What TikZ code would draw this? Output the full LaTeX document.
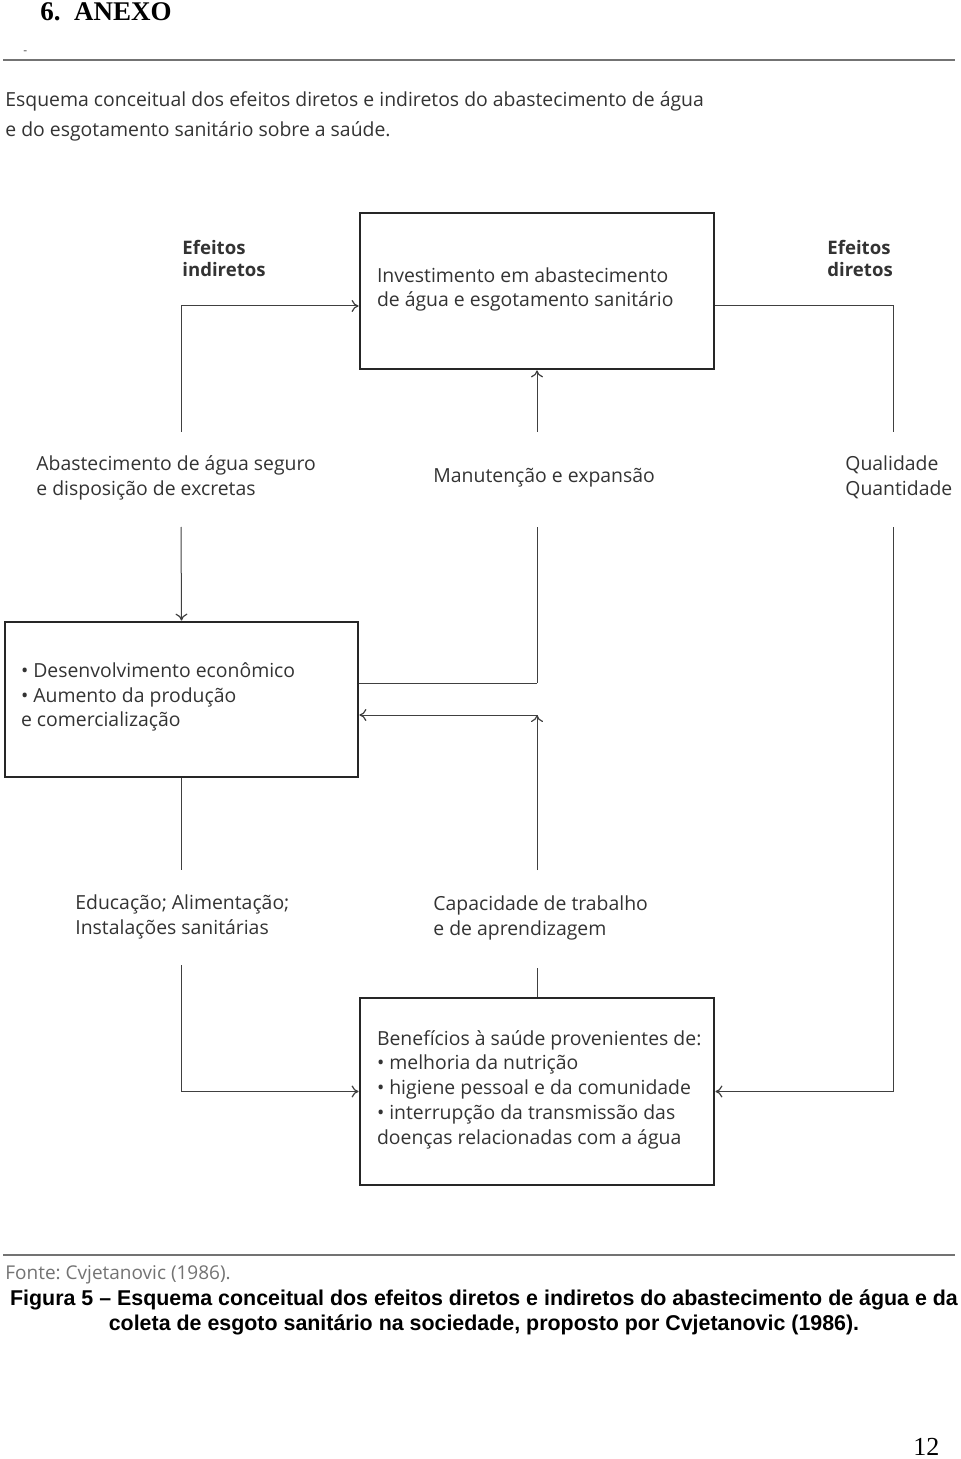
\documentclass[tikz,border=0pt]{standalone}
\usepackage{fontspec}
\setmainfont{Open Sans}
\newfontfamily\capfont{Liberation Sans}
\newfontfamily\romfont{Liberation Serif}
\usepackage{tikz}
\usetikzlibrary{arrows.meta}
\frenchspacing

\tikzset{
    box/.style={draw=black!85, line width=1.4pt, rectangle, inner sep=0},
    band/.style={draw=black!45, line width=1.6pt},
    tip/.style={-{To[length=3.5pt,width=6pt,line width=0.6pt,color=black!75]}}
}

\begin{document}
\begin{tikzpicture}[x=0.5pt,y=-0.5pt]
        \useasboundingbox (0,0) rectangle (960,1459);

        % page head and foot
        \node[anchor=west,inner sep=0,font=\romfont\bfseries\fontsize{13.5}{16}\selectfont] (40) at (40,12) {6.\ \ ANEXO};
        \node[anchor=west,inner sep=0,font=\fontsize{6}{7}\selectfont,text=black!70] (41) at (23,53) {-};
        \draw[black!55, line width=1pt] (3,60) -- (955,60);
        \node[anchor=west,inner sep=0,align=left,text=black!80,font=\fontsize{9.7}{15}\selectfont] (42) at (5,116)
            {Esquema conceitual dos efeitos diretos e indiretos do abastecimento de água\\e do esgotamento sanitário sobre a saúde.};
        \draw[black!55, line width=1pt] (3,1255) -- (955,1255);
        \node[anchor=west,inner sep=0,text=black!55,font=\fontsize{9.5}{12}\selectfont] (43) at (5,1275) {Fonte: Cvjetanovic (1986).};
        \node[inner sep=0,align=center,font=\capfont\bfseries\fontsize{10.7}{12.5}\selectfont] (44) at (484,1312.5)
            {Figura 5 – Esquema conceitual dos efeitos diretos e indiretos do abastecimento de água e da\\coleta de esgoto sanitário na sociedade, proposto por Cvjetanovic (1986).};
        \node[anchor=west,inner sep=0,font=\romfont\fontsize{13}{15}\selectfont] (45) at (913,1447) {12};

        % boxes
        \node[box, minimum width=177pt, minimum height=78pt] (1) at (537,291) {};
        \node[box, minimum width=176.5pt, minimum height=77.5pt] (2) at (181.5,699.5) {};
        \node[box, minimum width=177pt, minimum height=93.5pt] (3) at (537,1091.5) {};

        \begin{scope}[every node/.style={inner sep=0, anchor=west, align=left, text=black!80, font=\fontsize{9.7}{12.4}\selectfont}]
            \node (11) at ([xshift=9pt,yshift=0.75pt]1.west) {Investimento em abastecimento\\de água e esgotamento sanitário};
            \node (12) at ([xshift=8.5pt,yshift=1.25pt]2.west) {\textbullet\ Desenvolvimento econômico\\\textbullet\ Aumento da produção\\e comercialização};
            \node (13) at ([xshift=9pt,yshift=1pt]3.west) {Benefícios à saúde provenientes de:\\\textbullet\ melhoria da nutrição\\\textbullet\ higiene pessoal e da comunidade\\\textbullet\ interrupção da transmissão das\\doenças relacionadas com a água};

            \node[font=\bfseries\fontsize{9.3}{11}\selectfont] (5) at (182,258) {Efeitos\\indiretos};
            \node[font=\bfseries\fontsize{9.3}{11}\selectfont] (6) at (827,258) {Efeitos\\diretos};

            \node (7) at (36,477.5) {Abastecimento de água seguro\\e disposição de excretas};
            \node (8) at (433,478) {Manutenção e expansão};
            \node (9) at (845,477.5) {Qualidade\\Quantidade};
            \node (10) at (75,917) {Educação; Alimentação;\\Instalações sanitárias};
            \node (14) at (433,918) {Capacidade de trabalho\\e de aprendizagem};
        \end{scope}

        % connector ends
        \coordinate (20) at (181,432);
        \coordinate (21) at (893,432);
        \coordinate (22) at (537,432);
        \coordinate (23) at (181,527);
        \coordinate (24) at (537,527);
        \coordinate (25) at (537,683);
        \coordinate (26) at (537,870);
        \coordinate (27) at (537,715);
        \coordinate (28) at (893,527);
        \coordinate (29) at (181.5,870);
        \coordinate (30) at (181,965);
        \coordinate (31) at (537,968);

        \begin{scope}[every edge/.style={draw, black!75, line width=0.5pt}, black!75, line width=0.5pt]
            \draw [tip] (20) |- ([yshift=-7.5pt]1.west);
            \draw ([yshift=-7.5pt]1.east) -| (21);
            \path [tip] (22) edge (1.south);

            \path [tip] (23) edge (2.north);
            \path [-] (24) edge (25);
            \path [band] (25) edge (2.east |- 25);
            \path [-] (26) edge (27);
            \path [band, tip] (27) edge (2.east |- 27);
            \draw [tip] (28) |- (3.east);

            \path [-] (2.south) edge (29);
            \draw [tip] (30) |- (3.west);
            \path [-] (31) edge (3.north);
        \end{scope}
    \end{tikzpicture}
\end{document}
